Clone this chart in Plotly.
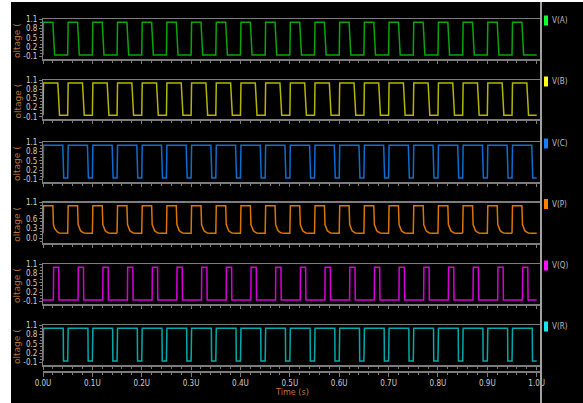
import plotly.graph_objects as go

# ---------------- data ----------------
# start time of each clock cycle (µs)
cycle_starts = [0.00, 0.05, 0.10, 0.15, 0.20, 0.25, 0.30, 0.35, 0.40, 0.45,
                0.50, 0.55, 0.60, 0.65, 0.70, 0.75, 0.80, 0.85, 0.90, 0.95]

# one-cycle waveform of each node: time offsets inside the cycle and voltages
A_t = [0.000, 0.001, 0.020, 0.0235, 0.050]
A_v = [-0.05, 1.00, 1.00, -0.05, -0.05]

B_t = [0.000, 0.001, 0.030, 0.0335, 0.050]
B_v = [-0.05, 1.00, 1.00, -0.05, -0.05]

C_t = [0.000, 0.001, 0.040, 0.042, 0.050]
C_v = [-0.05, 1.00, 1.00, -0.05, -0.05]

P_t = [0.000, 0.001, 0.020, 0.0212, 0.0235, 0.026, 0.029, 0.033, 0.040, 0.050]
P_v = [0.15, 1.00, 1.00, 0.42, 0.30, 0.23, 0.19, 0.16, 0.15, 0.15]

Q_t = [0.000, 0.021, 0.0215, 0.032, 0.0325, 0.050]
Q_v = [-0.05, -0.05, 1.00, 1.00, -0.05, -0.05]

R_t = [0.000, 0.001, 0.041, 0.0415, 0.050]
R_v = [-0.05, 1.00, 1.00, -0.05, -0.05]

names = ["V(A)", "V(B)", "V(C)", "V(P)", "V(Q)", "V(R)"]
templates = [(A_t, A_v), (B_t, B_v), (C_t, C_v), (P_t, P_v), (Q_t, Q_v), (R_t, R_v)]

x_tick_vals = [0.0, 0.1, 0.2, 0.3, 0.4, 0.5, 0.6, 0.7, 0.8, 0.9, 1.0]
x_tick_text = ["0.0U", "0.1U", "0.2U", "0.3U", "0.4U", "0.5U", "0.6U", "0.7U", "0.8U", "0.9U", "1.0U"]
y_ticks_std = [-0.1, 0.2, 0.5, 0.8, 1.1]
y_ticks_p = [0.0, 0.3, 0.6, 1.1]

# ---------------- styling ----------------
line_colors = ["#0aa50a", "#b4b400", "#0a6ed2", "#dc7400", "#d800d8", "#00aaaa"]
swatch_colors = ["#10ff30", "#ffff10", "#1080ff", "#ff8000", "#ff10ff", "#10e8f0"]
W, H = 583, 403
L, R, T, B = 43.0, 540.0, 19.0, 371.0
panels_px = [(19, 59), (80, 119), (142, 182), (202.5, 243), (264, 304), (325, 365)]
y_ranges = [[-0.174, 1.1], [-0.174, 1.1], [-0.174, 1.1], [-0.15, 1.1], [-0.174, 1.1], [-0.174, 1.1]]
axis_gray = "#7c7c7c"
label_gray = "#cfcfcf"
title_col = "#b87438"
tick_font = dict(family="Liberation Sans Narrow, DejaVu Sans Condensed, Arial Narrow, sans-serif",
                 size=8, color=label_gray)


def py(p):
    return (B - p) / (B - T)


def px(p):
    return (p - L) / (R - L)


fig = go.Figure()
x_end = (R - L) / 493.7

for i, ((tt, vv), name, col) in enumerate(zip(templates, names, line_colors)):
    xs, ys = [], []
    for c in cycle_starts:
        for o, v in zip(tt, vv):
            xs.append(c + o)
            ys.append(v)
    k = "" if i == 0 else str(i + 1)
    fig.add_trace(go.Scatter(x=xs, y=ys, mode="lines", name=name,
                             line=dict(color=col, width=1.5, shape="linear"),
                             xaxis="x" + k, yaxis="y" + k, showlegend=False,
                             hoverinfo="skip"))

# dummy trace for the shared time axis (tiny invisible subplot at the very bottom)
fig.add_trace(go.Scatter(x=[0, 1], y=[None, None], xaxis="x7", yaxis="y7",
                         showlegend=False, hoverinfo="skip"))

layout = dict(
    width=W, height=H,
    paper_bgcolor="white", plot_bgcolor="black",
    margin=dict(l=43, r=43, t=19, b=32, pad=0, autoexpand=False),
    showlegend=False,
)

for i, ((top, bot), rng) in enumerate(zip(panels_px, y_ranges)):
    k = "" if i == 0 else str(i + 1)
    layout["xaxis" + k] = dict(
        domain=[0, 1], range=[0, x_end], anchor="y" + k,
        matches=None if i == 0 else "x", automargin=False,
        showline=True, linecolor=axis_gray, linewidth=1.5, mirror=True,
        ticks="outside", ticklen=3, tickcolor=axis_gray, tickwidth=1,
        tickvals=x_tick_vals, showticklabels=False,
        minor=dict(ticks="outside", ticklen=2, tickcolor=axis_gray, dtick=0.02, tick0=0),
        showgrid=False, zeroline=False,
    )
    layout["yaxis" + k] = dict(
        domain=[py(bot), py(top)], range=rng, anchor="x" + k, automargin=False,
        showline=True, linecolor=axis_gray, linewidth=1,
        ticks="outside", ticklen=3, tickcolor=axis_gray,
        tickvals=y_ticks_p if i == 3 else y_ticks_std,
        ticktext=[("%.1f" % v) for v in (y_ticks_p if i == 3 else y_ticks_std)],
        tickfont=tick_font,
        minor=dict(ticks="outside", ticklen=2, tickcolor=axis_gray, dtick=0.1, tick0=-0.1),
        showgrid=False, zeroline=False, fixedrange=True,
    )

layout["xaxis7"] = dict(
    domain=[0, 1], range=[0, x_end], anchor="y7", matches="x", automargin=False,
    showline=True, linecolor=axis_gray, linewidth=1.5,
    ticks="outside", ticklen=4, tickcolor=axis_gray,
    tickvals=x_tick_vals, ticktext=x_tick_text, tickfont=tick_font,
    minor=dict(ticks="outside", ticklen=2, tickcolor=axis_gray, dtick=0.02, tick0=0),
    showgrid=False, zeroline=False,
)
layout["yaxis7"] = dict(domain=[0, 0.001], visible=False, range=[0, 1], automargin=False)

shapes = [
    dict(type="rect", xref="paper", yref="paper", x0=px(11), x1=px(W + 5), y0=py(H + 5), y1=py(2),
         fillcolor="black", line=dict(width=0), layer="below"),
    dict(type="line", xref="paper", yref="paper", x0=px(541), x1=px(541), y0=py(H + 5), y1=py(2),
         line=dict(color="#a0a0a0", width=2), layer="above"),
]
annotations = []
for i, ((top, bot), name, sc) in enumerate(zip(panels_px, names, swatch_colors)):
    shapes.append(dict(type="rect", xref="paper", yref="paper",
                       x0=px(544), x1=px(548), y0=py(top + 6.5), y1=py(top - 3.5),
                       fillcolor=sc, line=dict(width=0), layer="above"))
    annotations.append(dict(text=name, xref="paper", yref="paper", x=px(549.5), y=py(top + 1.5),
                            xanchor="left", yanchor="middle", showarrow=False,
                            font=dict(family=tick_font["family"], size=8, color="#bdbdbd")))
    annotations.append(dict(text="oltage (", xref="paper", yref="paper", x=px(17), y=py((top + bot) / 2 + 2),
                            xanchor="center", yanchor="middle", showarrow=False, textangle=-90,
                            font=dict(family="DejaVu Sans", size=9, color=title_col)))

annotations.append(dict(text="Time (s)", xref="paper", yref="paper", x=px(291.5), y=py(392),
                        xanchor="center", yanchor="middle", showarrow=False,
                        font=dict(family=tick_font["family"], size=9, color=title_col)))

layout["shapes"] = shapes
layout["annotations"] = annotations
fig.update_layout(**layout)
fig.write_html("out.html",
               config={"displayModeBar": False, "staticPlot": True},
               post_script="document.body.style.margin='0';document.body.style.overflow='hidden';")
